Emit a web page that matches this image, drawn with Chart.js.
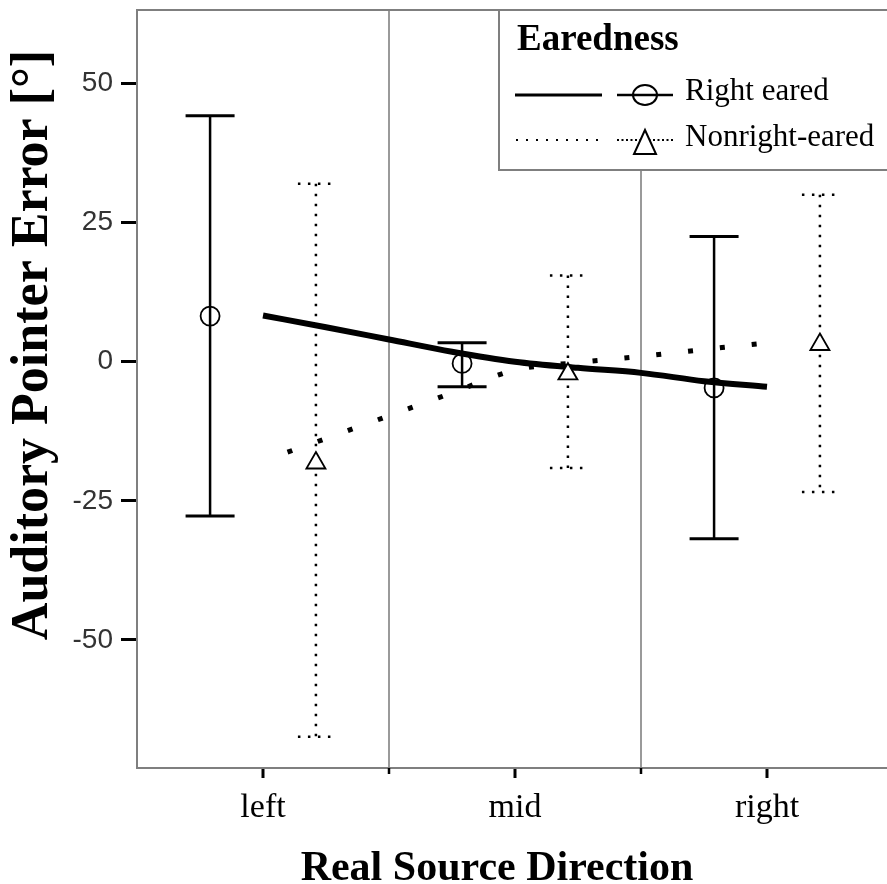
<!DOCTYPE html>
<html>
<head>
<meta charset="utf-8">
<script src="https://cdn.jsdelivr.net/npm/chart.js@4.4.1/dist/chart.umd.min.js"></script>
<style>
  html, body { margin: 0; padding: 0; background: #fff; overflow: hidden; }
  #c { position: absolute; left: 0; top: 0; width: 895px; height: 884px; }
</style>
</head>
<body>
<canvas id="c" width="895" height="884"></canvas>
<script>
// Categories and tick values
const xLabels = ['left', 'mid', 'right'];
const yTickValues = [-50, -25, 0, 25, 50];

// Right eared: group means and error bar limits
const rightMean = [8.2, -0.3, -4.7];
const rightLow  = [-27.7, -4.5, -31.8];
const rightHigh = [44.2, 3.4, 22.5];

// Nonright-eared: group means and error bar limits
const nonMean = [-18.2, -2.2, 3.1];
const nonLow  = [-67.4, -19.1, -23.4];
const nonHigh = [32.0, 15.5, 30.0];

// Fit curves across the three directions
const fitX     = [0, 0.25, 0.5, 0.75, 1, 1.25, 1.5, 1.75, 2];
const rightFit = [8.3, 6.2, 4.0, 1.8, 0.0, -1.1, -2.0, -3.5, -4.5];
const nonFit   = [-17.8, -13.8, -9.7, -5.6, -1.5, -0.15, 0.95, 2.2, 3.4];

const legendTitle = 'Earedness';
const seriesNames = ['Right eared', 'Nonright-eared'];
const xTitle = 'Real Source Direction';
const yTitle = 'Auditory Pointer Error [°]';

// Horizontal shift of each group inside a category
const SHIFT = 0.21;

const SERIF = '"Liberation Serif", "Times New Roman", serif';
const SANS = '"Liberation Sans", Arial, sans-serif';
const FRAME = '#7f7f7f';

const pts = (vals, dx) => vals.map((v, i) => ({ x: i + dx, y: v }));
const curve = (vals) => vals.map((v, i) => ({ x: fitX[i], y: v }));

const errorGroups = [
  { low: rightLow, high: rightHigh, dx: -SHIFT, dash: [], width: 2.5, capHalf: 24.5, capWidth: 3 },
  { low: nonLow, high: nonHigh, dx: SHIFT, dash: [2.5, 7.5], width: 2.5, capHalf: 18, capWidth: 2.5 }
];

const errorBars = {
  id: 'errorBars',
  beforeDatasetsDraw(chart) {
    const { ctx, scales: { x, y } } = chart;
    ctx.save();
    ctx.strokeStyle = '#000';
    errorGroups.forEach(g => {
      g.low.forEach((lo, i) => {
        const px = x.getPixelForValue(i + g.dx);
        const pLo = y.getPixelForValue(lo);
        const pHi = y.getPixelForValue(g.high[i]);
        ctx.setLineDash(g.dash);
        ctx.lineWidth = g.width;
        ctx.beginPath();
        ctx.moveTo(px, pHi);
        ctx.lineTo(px, pLo);
        ctx.stroke();
        ctx.lineWidth = g.capWidth;
        [pHi, pLo].forEach(py => {
          ctx.beginPath();
          ctx.moveTo(px - g.capHalf, py);
          ctx.lineTo(px + g.capHalf, py);
          ctx.stroke();
        });
      });
    });
    ctx.restore();
  }
};

const frameAndTitles = {
  id: 'frameAndTitles',
  beforeDatasetsDraw(chart) {
    const { ctx, chartArea: a, scales: { x } } = chart;
    ctx.save();
    ctx.strokeStyle = FRAME;
    ctx.lineWidth = 2;
    ctx.beginPath();
    ctx.moveTo(chart.width, a.top);
    ctx.lineTo(a.left, a.top);
    ctx.lineTo(a.left, a.bottom);
    ctx.lineTo(chart.width, a.bottom);
    ctx.stroke();
    // short ticks between categories
    ctx.strokeStyle = '#000';
    ctx.lineWidth = 2.5;
    [0.5, 1.5].forEach(v => {
      const px = x.getPixelForValue(v);
      ctx.beginPath();
      ctx.moveTo(px, a.bottom);
      ctx.lineTo(px, a.bottom + 6);
      ctx.stroke();
    });
    ctx.restore();
  },
  afterDraw(chart) {
    const { ctx } = chart;
    ctx.save();
    ctx.fillStyle = '#000';
    ctx.font = 'bold 42px ' + SERIF;
    ctx.textAlign = 'center';
    ctx.textBaseline = 'alphabetic';
    ctx.fillText(xTitle, 497, 880);
    ctx.translate(47, 345);
    ctx.rotate(-Math.PI / 2);
    ctx.font = 'bold 52px ' + SERIF;
    ctx.fillText(yTitle, 0, 0);
    ctx.restore();
  }
};

const legendBox = {
  id: 'legendBox',
  afterDraw(chart) {
    const { ctx } = chart;
    const left = 499, top = 10, bottom = 170, right = chart.width + 5;
    ctx.save();
    ctx.fillStyle = '#fff';
    ctx.fillRect(left, top, right - left, bottom - top);
    ctx.strokeStyle = FRAME;
    ctx.lineWidth = 2;
    ctx.strokeRect(left, top, right - left, bottom - top);

    ctx.fillStyle = '#000';
    ctx.textAlign = 'left';
    ctx.textBaseline = 'alphabetic';
    ctx.font = 'bold 37px ' + SERIF;
    ctx.fillText(legendTitle, 517, 50);

    ctx.strokeStyle = '#000';
    // Right eared row
    ctx.lineWidth = 3;
    ctx.setLineDash([]);
    ctx.beginPath(); ctx.moveTo(515, 95); ctx.lineTo(602, 95); ctx.stroke();
    ctx.lineWidth = 2.5;
    ctx.beginPath(); ctx.moveTo(617, 95); ctx.lineTo(673, 95); ctx.stroke();
    ctx.lineWidth = 2;
    ctx.beginPath(); ctx.ellipse(645, 95, 12, 10, 0, 0, Math.PI * 2); ctx.stroke();

    // Nonright-eared row
    ctx.lineWidth = 2;
    ctx.setLineDash([2, 8]);
    ctx.beginPath(); ctx.moveTo(516, 140); ctx.lineTo(602, 140); ctx.stroke();
    ctx.setLineDash([2, 2.5]);
    ctx.beginPath(); ctx.moveTo(617, 140); ctx.lineTo(673, 140); ctx.stroke();
    ctx.setLineDash([]);
    ctx.fillStyle = '#fff';
    ctx.beginPath();
    ctx.moveTo(645, 130); ctx.lineTo(656, 154); ctx.lineTo(634, 154); ctx.closePath();
    ctx.fill(); ctx.stroke();

    ctx.fillStyle = '#000';
    ctx.font = '31px ' + SERIF;
    ctx.fillText(seriesNames[0], 685, 100);
    ctx.fillText(seriesNames[1], 685, 146);
    ctx.restore();
  }
};

new Chart(document.getElementById('c'), {
  type: 'scatter',
  data: {
    datasets: [
      {
        label: seriesNames[0],
        data: pts(rightMean, -SHIFT),
        pointStyle: 'circle',
        pointRadius: 9.5,
        pointBorderWidth: 1.8,
        pointBorderColor: '#000',
        pointBackgroundColor: 'rgba(0,0,0,0)',
        showLine: false
      },
      {
        label: seriesNames[1],
        data: pts(nonMean, SHIFT),
        pointStyle: 'triangle',
        pointRadius: 11,
        pointBorderWidth: 1.8,
        pointBorderColor: '#000',
        pointBackgroundColor: '#fff',
        showLine: false
      },
      {
        label: seriesNames[0] + ' fit',
        data: curve(rightFit),
        showLine: true,
        borderColor: '#000',
        borderWidth: 6,
        borderCapStyle: 'butt',
        cubicInterpolationMode: 'monotone',
        pointRadius: 0
      },
      {
        label: seriesNames[1] + ' fit',
        data: curve(nonFit),
        showLine: true,
        borderColor: '#000',
        borderWidth: 5,
        borderDash: [5, 27],
        borderDashOffset: 6,
        borderCapStyle: 'butt',
        cubicInterpolationMode: 'monotone',
        pointRadius: 0
      }
    ]
  },
  options: {
    responsive: false,
    maintainAspectRatio: false,
    animation: false,
    devicePixelRatio: 1,
    layout: { autoPadding: false, padding: { top: 10, left: 0, right: 2, bottom: 0 } },
    plugins: { legend: { display: false }, tooltip: { enabled: false } },
    scales: {
      x: {
        type: 'linear',
        min: -0.5,
        max: 2.5,
        afterBuildTicks: s => { s.ticks = [0, 0.5, 1, 1.5, 2].map(v => ({ value: v })); },
        afterFit: s => { s.height = 116; s.paddingLeft = 0; s.paddingRight = 0; },
        border: { display: false },
        grid: {
          color: c => (c.tick && c.tick.value % 1 !== 0) ? '#9a9a9a' : 'rgba(0,0,0,0)',
          lineWidth: 2,
          drawTicks: true,
          tickLength: 10,
          tickWidth: 3,
          tickColor: c => (c.tick && c.tick.value % 1 === 0) ? '#000' : 'rgba(0,0,0,0)'
        },
        ticks: {
          autoSkip: false,
          maxRotation: 0,
          padding: 10,
          color: '#000',
          font: { family: SERIF, size: 34, lineHeight: 1.2 },
          callback: v => (v % 1 === 0 ? xLabels[v] : '')
        }
      },
      y: {
        type: 'linear',
        min: -73,
        max: 63.2,
        afterBuildTicks: s => { s.ticks = yTickValues.map(v => ({ value: v })); },
        afterFit: s => { s.width = 137; s.paddingTop = 0; s.paddingBottom = 0; },
        border: { display: false },
        grid: {
          color: 'rgba(0,0,0,0)',
          drawTicks: true,
          tickLength: 16,
          tickWidth: 3,
          tickColor: '#000'
        },
        ticks: {
          padding: 8,
          color: '#333',
          font: { family: SANS, size: 28 },
          callback: v => String(v)
        }
      }
    }
  },
  plugins: [frameAndTitles, errorBars, legendBox]
});
</script>
</body>
</html>
